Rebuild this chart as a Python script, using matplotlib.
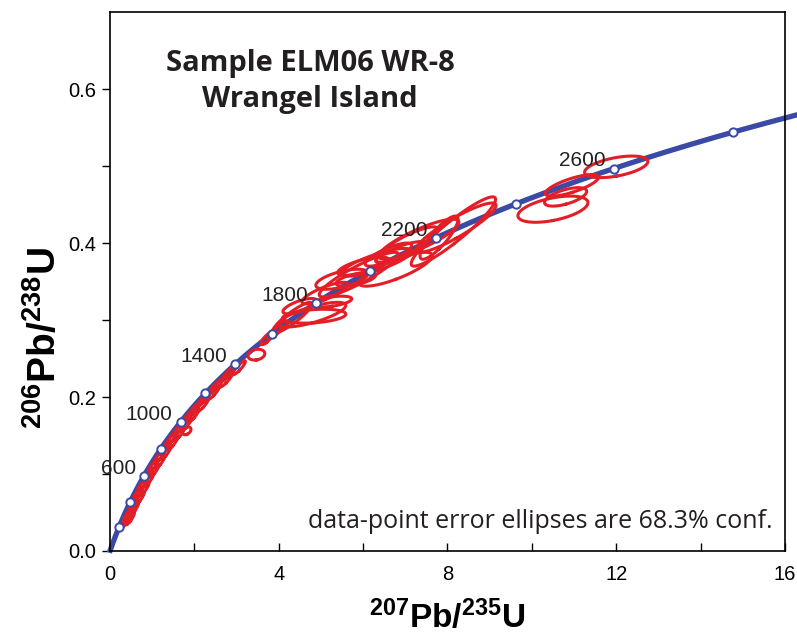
import numpy as np
import matplotlib
matplotlib.use("Agg")
import matplotlib.pyplot as plt
from matplotlib.ticker import MultipleLocator, FixedLocator, FormatStrFormatter

# decay constants (1/Ma)
lam238 = 1.55125e-4
lam235 = 9.8485e-4

# concordia ages marked (Ma) and the ones labelled
marker_ages = [200, 400, 600, 800, 1000, 1200, 1400, 1600, 1800, 2000, 2200, 2400, 2600, 2800]
label_ages = [600, 1000, 1400, 1800, 2200, 2600]

# error ellipses: 207Pb/235U, err, 206Pb/238U, err, rho
pb207_u235 = [0.33, 0.48, 0.43, 0.58, 0.55, 0.70, 0.65, 0.81, 0.77, 0.92, 0.89, 1.05,
              1.02, 1.19, 1.16, 1.33, 1.30, 1.48, 1.46, 1.64, 1.62, 1.80, 1.82,
              1.79, 1.98, 1.97, 2.20, 2.23, 2.46, 2.51, 2.75, 2.80, 3.06,
              3.47, 3.72, 3.90, 4.05,
              4.32, 4.80, 4.84, 5.26, 5.50, 5.83, 5.90, 6.32, 6.77, 7.04, 6.60,
              5.10, 6.00, 6.90, 4.50,
              7.32, 7.80, 8.14, 8.20,
              10.50, 10.80, 10.95, 12.00]
err_207 = [0.09, 0.10, 0.10, 0.10, 0.10, 0.11, 0.11, 0.11, 0.11, 0.11, 0.11, 0.11,
           0.12, 0.12, 0.12, 0.12, 0.12, 0.13, 0.13, 0.13, 0.13, 0.13, 0.10,
           0.13, 0.13, 0.13, 0.14, 0.14, 0.14, 0.15, 0.15, 0.15, 0.15,
           0.20, 0.14, 0.16, 0.16,
           0.47, 0.79, 0.75, 0.47, 0.62, 0.47, 0.94, 0.83, 0.87, 0.74, 0.55,
           0.55, 0.60, 0.60, 0.40,
           0.95, 0.45, 1.00, 0.95,
           0.83, 0.50, 0.63, 0.75]
pb206_u238 = [0.036, 0.042, 0.048, 0.055, 0.062, 0.068, 0.074, 0.080, 0.086, 0.092, 0.098, 0.104,
              0.110, 0.116, 0.122, 0.128, 0.134, 0.140, 0.146, 0.152, 0.158, 0.164, 0.156,
              0.170, 0.176, 0.182, 0.190, 0.198, 0.206, 0.214, 0.222, 0.230, 0.238,
              0.255, 0.276, 0.284, 0.291,
              0.303, 0.307, 0.305, 0.324, 0.353, 0.353, 0.359, 0.375, 0.366, 0.398, 0.385,
              0.335, 0.370, 0.388, 0.318,
              0.405, 0.407, 0.415, 0.420,
              0.444, 0.460, 0.475, 0.499]
err_206 = [0.008, 0.008, 0.008, 0.008, 0.008, 0.008, 0.008, 0.008, 0.008, 0.008, 0.008, 0.008,
           0.009, 0.009, 0.009, 0.009, 0.009, 0.009, 0.009, 0.009, 0.009, 0.009, 0.005,
           0.009, 0.009, 0.009, 0.009, 0.009, 0.009, 0.009, 0.009, 0.009, 0.009,
           0.007, 0.008, 0.008, 0.008,
           0.020, 0.016, 0.009, 0.007, 0.013, 0.009, 0.029, 0.018, 0.022, 0.023, 0.015,
           0.014, 0.012, 0.014, 0.010,
           0.026, 0.028, 0.045, 0.032,
           0.017, 0.012, 0.014, 0.014]
rho = [0.9] * 22 + [0.4] + [0.9] * 10 + [0.2, 0.8, 0.8, 0.8] + \
      [0.9, 0.75, 0.3, 0.5, 0.6, 0.6, 0.9, 0.8, 0.8, 0.85, 0.8] + \
      [0.8, 0.7, 0.8, 0.7] + \
      [0.85, 0.85, 0.93, 0.9] + [0.5, 0.6, 0.75, 0.5]

blue = '#3a4aa5'
red = '#e31e26'

plt.rcParams['mathtext.fontset'] = 'custom'
plt.rcParams['mathtext.bf'] = 'Liberation Sans:bold'
plt.rcParams['mathtext.rm'] = 'Liberation Sans'

fig = plt.figure(figsize=(7.97, 6.38), dpi=100)
ax = fig.add_axes([0.138, 0.1364, 0.8469, 0.8446])

# concordia curve
t = np.linspace(-15, 2900, 600)
ax.plot(np.exp(lam235 * t) - 1, np.exp(lam238 * t) - 1, color=blue, lw=3.8,
        solid_capstyle='butt', zorder=2, clip_on=False)

# error ellipses
th = np.linspace(0, 2 * np.pi, 100)
for x0, sx, y0, sy, r in zip(pb207_u235, err_207, pb206_u238, err_206, rho):
    cov = np.array([[sx * sx, r * sx * sy], [r * sx * sy, sy * sy]])
    w, v = np.linalg.eigh(cov)
    pts = v @ (np.sqrt(w)[:, None] * np.vstack([np.cos(th), np.sin(th)]))
    ax.plot(x0 + pts[0], y0 + pts[1], color=red, lw=2.2, zorder=3)

# age markers
ma = np.array(marker_ages)
ax.plot(np.exp(lam235 * ma) - 1, np.exp(lam238 * ma) - 1, 'o', ms=6,
        mfc='white', mec=blue, mew=1.4, zorder=4)
for a in label_ages:
    ax.annotate(str(a), (np.exp(lam235 * a) - 1, np.exp(lam238 * a) - 1),
                xytext=(-6, 5.5), textcoords='offset points', ha='right', va='center',
                fontsize=15, family='Liberation Sans', color='#222222', zorder=5)

ax.set_xlim(0, 16)
ax.set_ylim(0, 0.7)
ax.xaxis.set_major_locator(MultipleLocator(4))
ax.xaxis.set_minor_locator(MultipleLocator(2))
ax.yaxis.set_major_locator(MultipleLocator(0.2))
ax.yaxis.set_minor_locator(FixedLocator([0.1, 0.3, 0.5]))
ax.yaxis.set_major_formatter(FormatStrFormatter('%.1f'))
ax.tick_params(axis='x', which='both', direction='in', length=6, width=1, pad=10, labelsize=14.5)
ax.tick_params(axis='y', which='both', direction='out', length=6, width=1, pad=4, labelsize=14.5)
for lab in ax.get_xticklabels() + ax.get_yticklabels():
    lab.set_family('Liberation Sans')
for s in ax.spines.values():
    s.set_linewidth(1.2)

ax.set_xlabel(r'$\mathbf{^{207}Pb/^{235}U}$', fontsize=24, labelpad=11)
ax.set_ylabel(r'$\mathbf{^{206}Pb/^{238}U}$', fontsize=28)
ax.yaxis.set_label_coords(-0.069, 0.395)

ax.text(4.74, 0.633, 'Sample ELM06 WR-8', ha='center', va='center',
        fontsize=21, fontweight='bold', family='Open Sans', color='#231f20')
ax.text(4.74, 0.587, 'Wrangel Island', ha='center', va='center',
        fontsize=21, fontweight='bold', family='Open Sans', color='#231f20')
ax.text(15.7, 0.038, 'data-point error ellipses are 68.3% conf.', ha='right', va='center',
        fontsize=18, family='Open Sans', color='#231f20')

plt.savefig('out.png', dpi=100)
